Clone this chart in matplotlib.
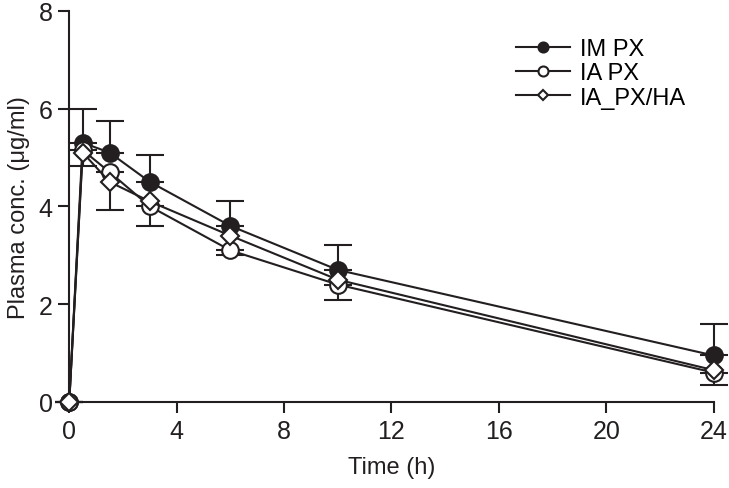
import matplotlib.pyplot as plt

plt.rcParams['font.family'] = ['Liberation Sans', 'DejaVu Sans']

time_h = [0, 0.5, 1.5, 3, 6, 10, 24]

im_px = [0, 5.3, 5.1, 4.5, 3.6, 2.7, 0.95]
im_px_err = [0, 0.7, 0.65, 0.55, 0.5, 0.5, 0.65]

ia_px = [0, 5.15, 4.7, 4.0, 3.1, 2.4, 0.6]
ia_px_err = [0, 0.32, 0.77, 0.4, 0.1, 0.31, 0.25]

ia_px_ha = [0, 5.1, 4.5, 4.1, 3.4, 2.5, 0.65]

fig = plt.figure(figsize=(7.29, 4.89), dpi=100)
ax = fig.add_axes([0.095, 0.176, 0.884, 0.8])

zeros = [0] * len(time_h)
ax.errorbar(time_h, ia_px, yerr=[ia_px_err, zeros], fmt='none', ecolor='#231f20',
            elinewidth=1.5, capsize=10, capthick=1.5, clip_on=False, zorder=2)
ax.errorbar(time_h, im_px, yerr=[zeros, im_px_err], fmt='none', ecolor='#231f20',
            elinewidth=1.5, capsize=10, capthick=1.5, clip_on=False, zorder=2)

ax.plot(time_h, im_px, color='#231f20', lw=1.5, marker='o', ms=12,
        mfc='#231f20', mec='#231f20', mew=1.5, label='IM PX', clip_on=False, zorder=3)
ax.plot(time_h, ia_px, color='#231f20', lw=1.5, marker='o', ms=12,
        mfc='white', mec='#231f20', mew=1.5, label='IA PX', clip_on=False, zorder=4)
ax.plot(time_h, ia_px_ha, color='#231f20', lw=1.5, marker='D', ms=9,
        mfc='white', mec='#231f20', mew=1.5, label='IA_PX/HA', clip_on=False, zorder=5)

ax.set_xlim(0, 24)
ax.set_ylim(0, 8)
ax.set_xticks([0, 4, 8, 12, 16, 20, 24])
ax.set_yticks([0, 2, 4, 6, 8])
ax.spines['top'].set_visible(False)
ax.spines['right'].set_visible(False)
for s in ['left', 'bottom']:
    ax.spines[s].set_linewidth(1.5)
    ax.spines[s].set_color('#231f20')
ax.tick_params(direction='out', length=8, width=1.5, labelsize=18, colors='#231f20', pad=4)
ax.set_xlabel('Time (h)', fontsize=17, color='#231f20', labelpad=10)
ax.set_ylabel('Plasma conc. (μg/ml)', fontsize=17, color='#231f20', labelpad=6)

ax.legend(loc='upper right', bbox_to_anchor=(0.99, 0.985), frameon=False, fontsize=17,
          markerscale=0.6, handlelength=2.3, labelspacing=0.1, handletextpad=0.4)

plt.savefig('out.png', dpi=100)
